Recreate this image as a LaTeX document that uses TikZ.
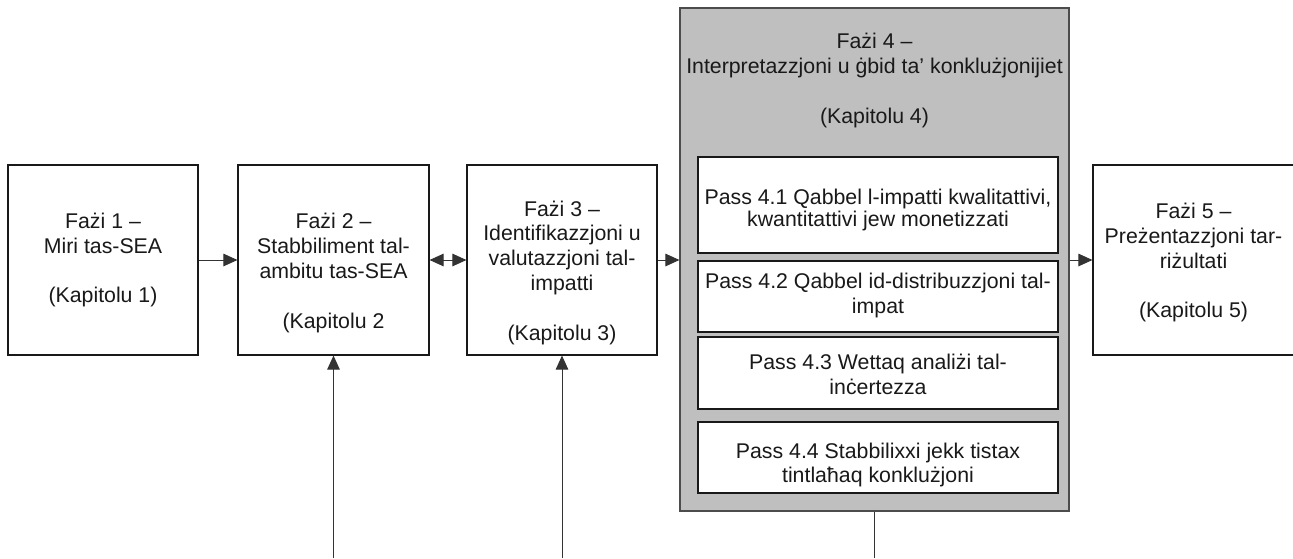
\documentclass[tikz,border=0pt]{standalone}
\usepackage{fontspec}
\setmainfont{Liberation Sans}
\usetikzlibrary{arrows.meta}
\begin{document}
\begin{tikzpicture}[x=1pt,y=-1pt,
  box/.style={rectangle, draw=black!90, line width=1.1pt, fill=white, inner sep=0pt},
  phase/.style={box, minimum height=190pt},
  greybox/.style={rectangle, draw=black!70, line width=1.1pt, fill=black!25, inner sep=0pt},
  stepbox/.style={box, minimum width=360pt},
  txt/.style={align=center, inner sep=0pt, text=black!90, font=\fontsize{21.3}{24.8}\selectfont},
  conn/.style={draw=black!80, line width=1pt},
  tip/.tip={Triangle[length=14pt,width=12.5pt]},
  arr/.style={conn, -tip},
  darr/.style={conn, tip-tip}
]
\useasboundingbox (0,0) rectangle (1293,558);
% phase 4 container
\node[greybox, minimum width=389pt, minimum height=503pt] (g4) at (874.5,259.5) {};
\node[stepbox, minimum height=96pt] (s1) at (878,205) {};
\node[stepbox, minimum height=71pt] (s2) at (878,296.5) {};
\node[stepbox, minimum height=72pt] (s3) at (878,373) {};
\node[stepbox, minimum height=71pt] (s4) at (878,457.5) {};
% phase boxes
\node[phase, minimum width=190pt] (b1) at (103,260) {};
\node[phase, minimum width=191pt] (b2) at (333.5,260) {};
\node[phase, minimum width=190pt] (b3) at (562,260) {};
\node[phase, minimum width=201pt] (b5) at (1193.5,260) {};
% texts
\node[txt] (t1) at (103,260) {Fażi 1 –\\Miri tas-SEA\\[24.8pt](Kapitolu 1)};
\node[txt] (t2) at (333.5,273) {Fażi 2 –\\Stabbiliment tal-\\ambitu tas-SEA\\[24.8pt](Kapitolu 2};
\node[txt] (t3) at (562,272.5) {Fażi 3 –\\Identifikazzjoni u\\valutazzjoni tal-\\impatti\\[24.8pt](Kapitolu 3)};
\node[txt] (t4) at (874.5,80.5) {Fażi 4 –\\Interpretazzjoni u ġbid ta’ konklużjonijiet\\[24.8pt](Kapitolu 4)};
\node[txt] (t5) at (1193.5,262.5) {Fażi 5 –\\Preżentazzjoni tar-\\riżultati\\[24.8pt](Kapitolu 5)};
\node[txt, font=\fontsize{21.3}{22}\selectfont] (p1) at (878,210) {Pass 4.1 Qabbel l-impatti kwalitattivi,\\kwantitattivi jew monetizzati};
\node[txt] (p2) at (878,295.5) {Pass 4.2 Qabbel id-distribuzzjoni tal-\\impat};
\node[txt] (p3) at (878,374) {Pass 4.3 Wettaq analiżi tal-\\inċertezza};
\node[txt] (p4) at (878,465) {Pass 4.4 Stabbilixxi jekk tistax\\tintlaħaq konklużjoni};
% free ends at the bottom edge
\coordinate (c2) at (333.5,558);
\coordinate (c3) at (562,558);
\coordinate (c4) at (874.5,558);
% connectors
\draw[arr] (b1.east) -- (b2.west);
\draw[darr] (b2.east) -- (b3.west);
\draw[arr] (b3.east) -- (b3.east -| g4.west);
\draw[arr] (g4.east |- b5.west) -- (b5.west);
\draw[arr] (c2) -- (b2.south);
\draw[arr] (c3) -- (b3.south);
\draw[conn] (g4.south) -- (c4);
\end{tikzpicture}
\end{document}
